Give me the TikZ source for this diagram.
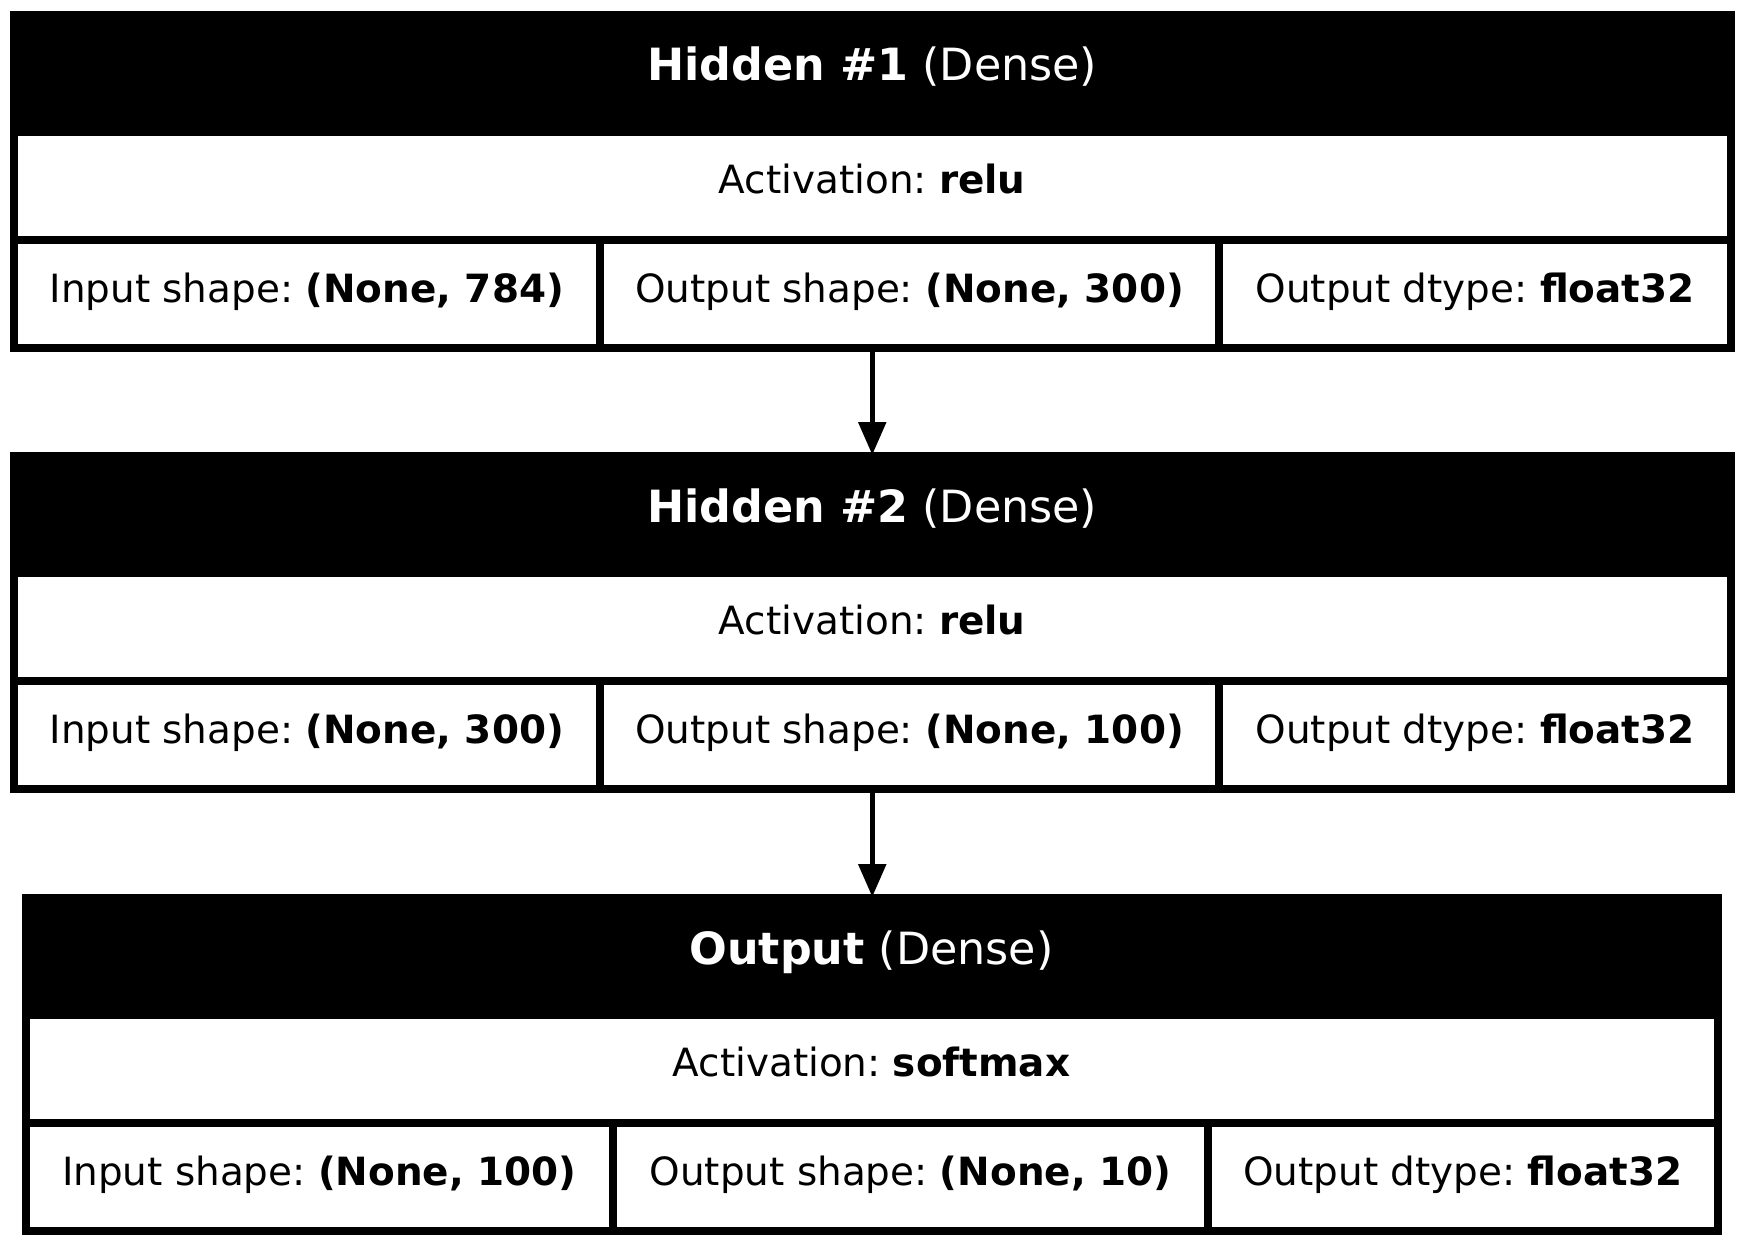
\documentclass[tikz,border=0pt]{standalone}
\usepackage{fontspec}
\setmainfont{DejaVu Sans}
\usetikzlibrary{arrows.meta}
\frenchspacing
\tikzset{
  frame/.style={fill=black, draw=none, inner sep=0pt, outer sep=0pt, anchor=north west},
  cell/.style={fill=white, draw=none, inner sep=0pt, outer sep=0pt, anchor=north west},
  body/.style={font=\fontsize{38.9}{46}\selectfont, text=black, anchor=base, inner sep=0pt},
  head/.style={font=\fontsize{44.4}{52}\selectfont, text=white, anchor=base, inner sep=0pt},
  flow/.style={line width=5.5pt, shorten >=-3pt, -{Triangle[width=27pt,length=33pt]}},
}
\begin{document}
\begin{tikzpicture}[x=1pt,y=-1pt]
\useasboundingbox[fill=white] (0,0) rectangle (1744,1247);
% one table per layer: header, activation row, three shape/dtype cells
\foreach \nm/\tp/\L/\R/\sa/\sb/\ttl/\act/\ins/\outs in {
  h1/11/9.5/1735/600/1219/{Hidden \#1}/relu/{(None, 784)}/{(None, 300)},
  h2/452/9.5/1735/600/1219/{Hidden \#2}/relu/{(None, 300)}/{(None, 100)},
  out/894/21.5/1721.5/613/1208/{Output}/softmax/{(None, 100)}/{(None, 10)}%
}{
  \pgfmathsetmacro\W{\R-\L}
  \pgfmathsetmacro\Wact{\R-\L-16}
  \pgfmathsetmacro\Wa{\sa-4-\L-8}
  \pgfmathsetmacro\Wb{\sb-\sa-8}
  \pgfmathsetmacro\Wc{\R-8-\sb-4}
  \pgfmathsetmacro\Xm{(\L+\R)/2}
  \pgfmathsetmacro\Xa{(\L+8+\sa-4)/2}
  \pgfmathsetmacro\Xb{(\sa+\sb)/2}
  \pgfmathsetmacro\Xc{(\sb+4+\R-8)/2}
  \node[frame, minimum width=\W pt, minimum height=341pt] (\nm) at (\L,\tp) {};
  \node[cell, minimum width=\Wact pt, minimum height=100pt] (\nm-act) at (\L+8,\tp+125) {};
  \node[cell, minimum width=\Wa pt, minimum height=100pt] (\nm-in) at (\L+8,\tp+233) {};
  \node[cell, minimum width=\Wb pt, minimum height=100pt] (\nm-out) at (\sa+4,\tp+233) {};
  \node[cell, minimum width=\Wc pt, minimum height=100pt] (\nm-dt) at (\sb+4,\tp+233) {};
  \node[head] (\nm-title) at (\Xm,\tp+70) {\textbf{\ttl} (Dense)};
  \node[body] (\nm-actlbl) at (\Xm,\tp+182.3) {Activation: \textbf{\act}};
  \node[body] (\nm-inlbl) at (\Xa,\tp+291.3) {Input shape: \textbf{\ins}};
  \node[body] (\nm-outlbl) at (\Xb,\tp+291.3) {Output shape: \textbf{\outs}};
  \node[body] (\nm-dtlbl) at (\Xc,\tp+291.3) {Output dtype: \textbf{float32}};
}
\draw[flow] (h1.south) -- (h2.north);
\draw[flow] (h2.south) -- (h2.south |- out.north);
\end{tikzpicture}
\end{document}
